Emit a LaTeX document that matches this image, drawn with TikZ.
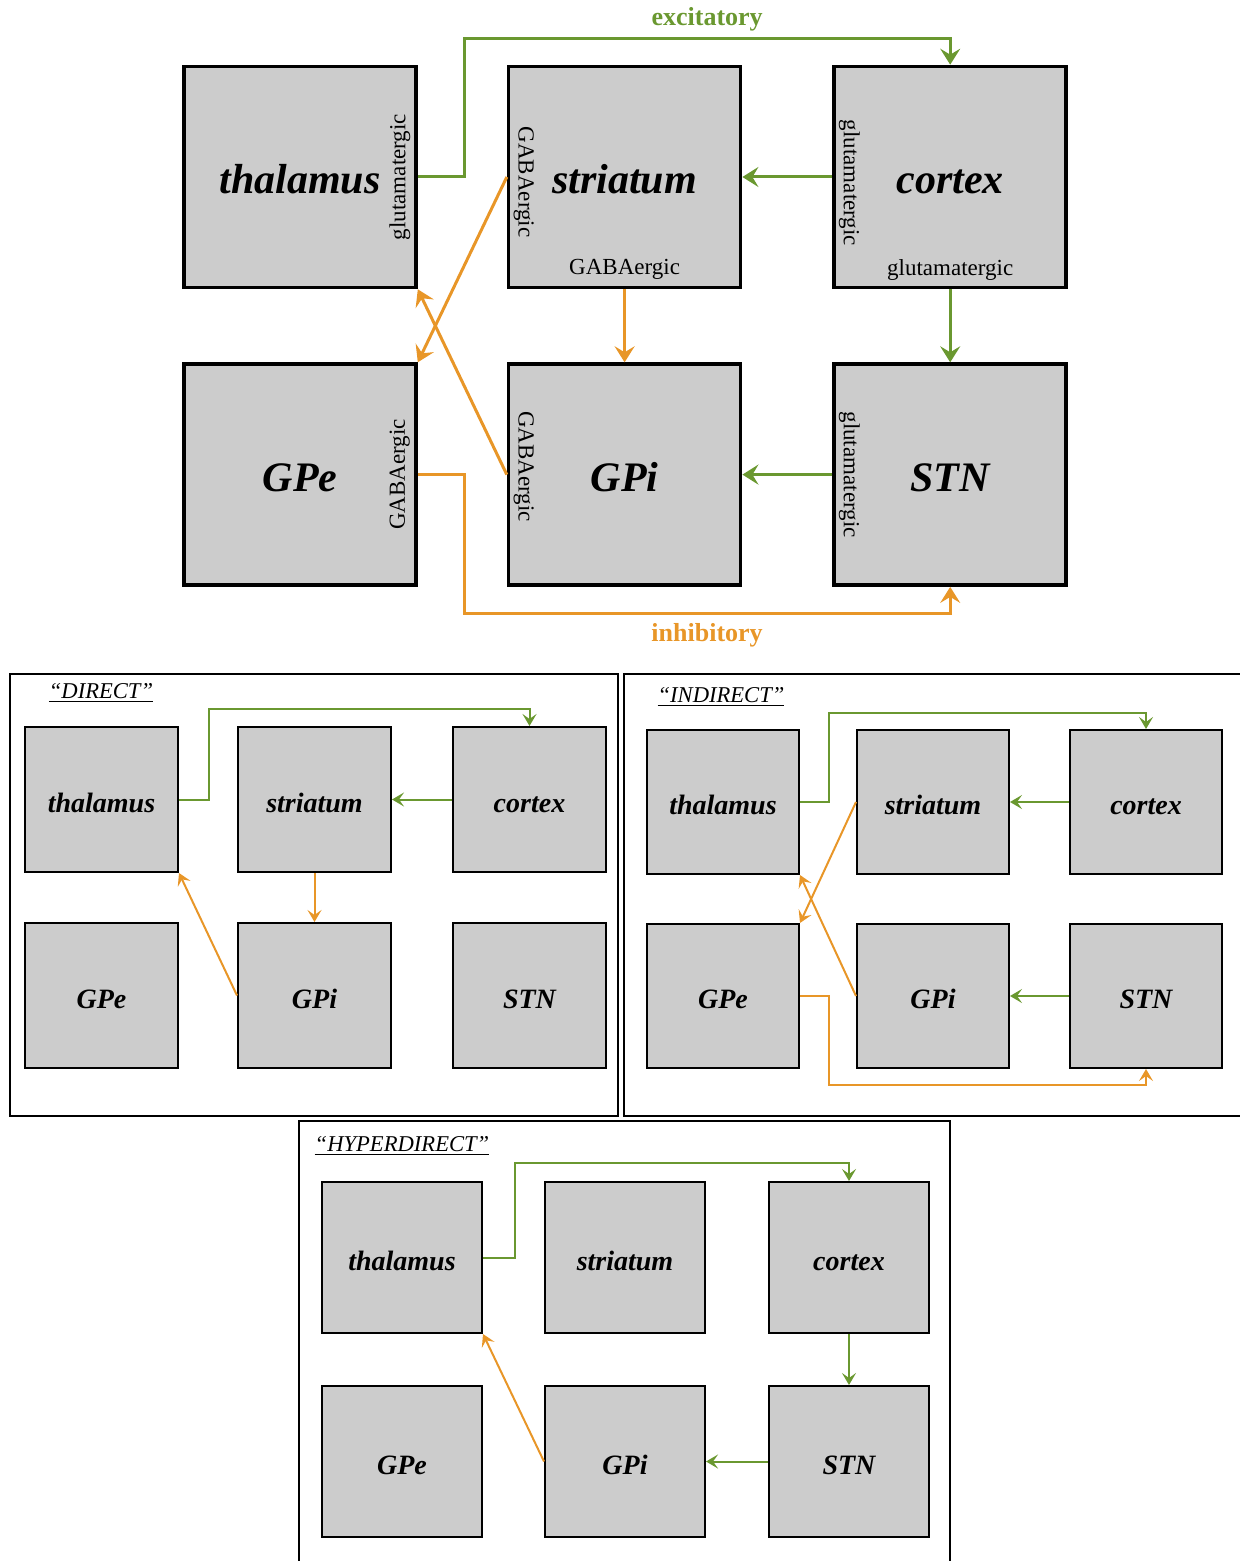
\documentclass[tikz,border=0pt]{standalone}
\usepackage{fontspec}
\setmainfont{Liberation Serif}
\usepackage{tikz}
\usetikzlibrary{positioning}
\usetikzlibrary{arrows.meta,calc}

\definecolor{excgreen}{RGB}{106,152,48}
\definecolor{inhorange}{RGB}{232,150,40}

\tikzset{
  region/.style={draw, line width=1.8pt, fill=black!20, minimum width=116pt, minimum height=110.5pt,
    text height=17pt, text depth=0pt, font=\fontsize{21}{25}\selectfont\bfseries\itshape},
  smallregion/.style={draw, line width=1.2pt, fill=black!20, text height=12.5pt, text depth=0pt,
    font=\fontsize{14}{17}\selectfont\bfseries\itshape},
  transmitter/.style={font=\fontsize{11.5}{14}\selectfont, inner sep=0pt},
  kind/.style={font=\fontsize{13}{15}\selectfont\bfseries},
  pathway/.style={font=\fontsize{11.3}{13}\selectfont\itshape, anchor=base},
  panel/.style={draw, line width=1pt},
  exc/.style={excgreen, line width=1.5pt, -{Stealth[length=8pt, width=10pt, inset=3pt]}},
  inh/.style={inhorange, line width=1.5pt, -{Stealth[length=8pt, width=10pt, inset=3pt]}},
  smallexc/.style={excgreen, line width=1pt, -{Stealth[length=6pt, width=7pt, inset=2.5pt]}},
  smallinh/.style={inhorange, line width=1pt, -{Stealth[length=6pt, width=7pt, inset=2.5pt]}}
}

\begin{document}
\begin{tikzpicture}[x=0.5pt, y=-0.5pt]
  \useasboundingbox (0,0) rectangle (1239,1561);

  % full circuit
  \node[region] (thal) at (300,177) {thalamus};
  \node[region, right=44.5pt of thal] (str) {striatum};
  \node[region, right=45pt of str] (ctx) {cortex};
  \node[region, below=36.5pt of thal] (gpe) {GPe};
  \node[region, below=36.5pt of str] (gpi) {GPi};
  \node[region, below=36.5pt of ctx] (stn) {STN};

  % transmitter of each output
  \node[transmitter, rotate=90] (thalglu) at ([xshift=-9pt]thal.east) {glutamatergic};
  \node[transmitter, rotate=-90] (strgaba) at ([xshift=8.5pt, yshift=-2.5pt]str.west) {GABAergic};
  \node[transmitter] (strgababot) at ([yshift=10pt]str.south) {GABAergic};
  \node[transmitter, rotate=-90] (ctxglu) at ([xshift=8.5pt, yshift=-3pt]ctx.west) {glutamatergic};
  \node[transmitter] (ctxglubot) at ([yshift=9.5pt]ctx.south) {glutamatergic};
  \node[transmitter, rotate=90] (gpegaba) at ([xshift=-9pt]gpe.east) {GABAergic};
  \node[transmitter, rotate=-90] (gpigaba) at ([xshift=8.5pt, yshift=4pt]gpi.west) {GABAergic};
  \node[transmitter, rotate=-90] (stnglu) at ([xshift=8.5pt]stn.west) {glutamatergic};

  \coordinate (exctop) at (464,39);
  \coordinate (inhbot) at (464,613);
  \draw[exc] (thal.east) -| (exctop) -| node[kind, pos=0.25, above] (exclabel) {excitatory} (ctx.north);
  \draw[exc] (ctx.west) -- (str.east);
  \draw[exc] (ctx.south) -- (stn.north);
  \draw[exc] (stn.west) -- (gpi.east);
  \draw[inh] (str.south) -- (gpi.north);
  \draw[inh] (str.west) -- (gpe.north east);
  \draw[inh] (gpi.west) -- (thal.south east);
  \draw[inh] (gpe.east) -| (inhbot) -| node[kind, pos=0.25, below, yshift=-1pt] (inhlabel) {inhibitory} (stn.south);

  % direct pathway
  \draw[panel] (10,674) rectangle (618,1116);
  \node[pathway] (dtitle) at (101,698.5) {\underline{“DIRECT”}};
  \begin{scope}[smallregion/.append style={minimum width=76.3pt, minimum height=72.3pt}]
    \node[smallregion] (dthal) at (101.5,799.5) {thalamus};
    \node[smallregion, right=29pt of dthal] (dstr) {striatum};
    \node[smallregion, right=30pt of dstr] (dctx) {cortex};
    \node[smallregion, below=24.5pt of dthal] (dgpe) {GPe};
    \node[smallregion, below=24.5pt of dstr] (dgpi) {GPi};
    \node[smallregion, below=24.5pt of dctx] (dstn) {STN};
  \end{scope}
  \coordinate (dexc) at (209,709);
  \draw[smallexc] (dthal.east) -| (dexc) -| (dctx.north);
  \draw[smallexc] (dctx.west) -- (dstr.east);
  \draw[smallinh] (dstr.south) -- (dgpi.north);
  \draw[smallinh] (dgpi.west) -- (dthal.south east);

  % indirect pathway
  \draw[panel] (624,674) rectangle (1250,1116);
  \node[pathway] (ititle) at (721,702) {\underline{“INDIRECT”}};
  \begin{scope}[smallregion/.append style={minimum width=75.8pt, minimum height=71.8pt}]
    \node[smallregion] (ithal) at (723,802) {thalamus};
    \node[smallregion, right=28pt of ithal] (istr) {striatum};
    \node[smallregion, right=29.5pt of istr] (ictx) {cortex};
    \node[smallregion, below=24pt of ithal] (igpe) {GPe};
    \node[smallregion, below=24pt of istr] (igpi) {GPi};
    \node[smallregion, below=24pt of ictx] (istn) {STN};
  \end{scope}
  \coordinate (iexc) at (829,713);
  \coordinate (iinh) at (829,1085);
  \draw[smallexc] (ithal.east) -| (iexc) -| (ictx.north);
  \draw[smallexc] (ictx.west) -- (istr.east);
  \draw[smallexc] (istn.west) -- (igpi.east);
  \draw[smallinh] (istr.west) -- (igpe.north east);
  \draw[smallinh] (igpi.west) -- (ithal.south east);
  \draw[smallinh] (igpe.east) -| (iinh) -| (istn.south);

  % hyperdirect pathway
  \draw[panel] (299,1121) rectangle (950,1570);
  \node[pathway] (htitle) at (402,1151) {\underline{“HYPERDIRECT”}};
  \begin{scope}[smallregion/.append style={minimum width=79.8pt, minimum height=75.3pt}]
    \node[smallregion] (hthal) at (402,1257.5) {thalamus};
    \node[smallregion, right=30.5pt of hthal] (hstr) {striatum};
    \node[smallregion, right=31pt of hstr] (hctx) {cortex};
    \node[smallregion, below=25.5pt of hthal] (hgpe) {GPe};
    \node[smallregion, below=25.5pt of hstr] (hgpi) {GPi};
    \node[smallregion, below=25.5pt of hctx] (hstn) {STN};
  \end{scope}
  \coordinate (hexc) at (515,1163);
  \draw[smallexc] (hthal.east) -| (hexc) -| (hctx.north);
  \draw[smallexc] (hctx.south) -- (hstn.north);
  \draw[smallexc] (hstn.west) -- (hgpi.east);
  \draw[smallinh] (hgpi.west) -- (hthal.south east);
\end{tikzpicture}
\end{document}
